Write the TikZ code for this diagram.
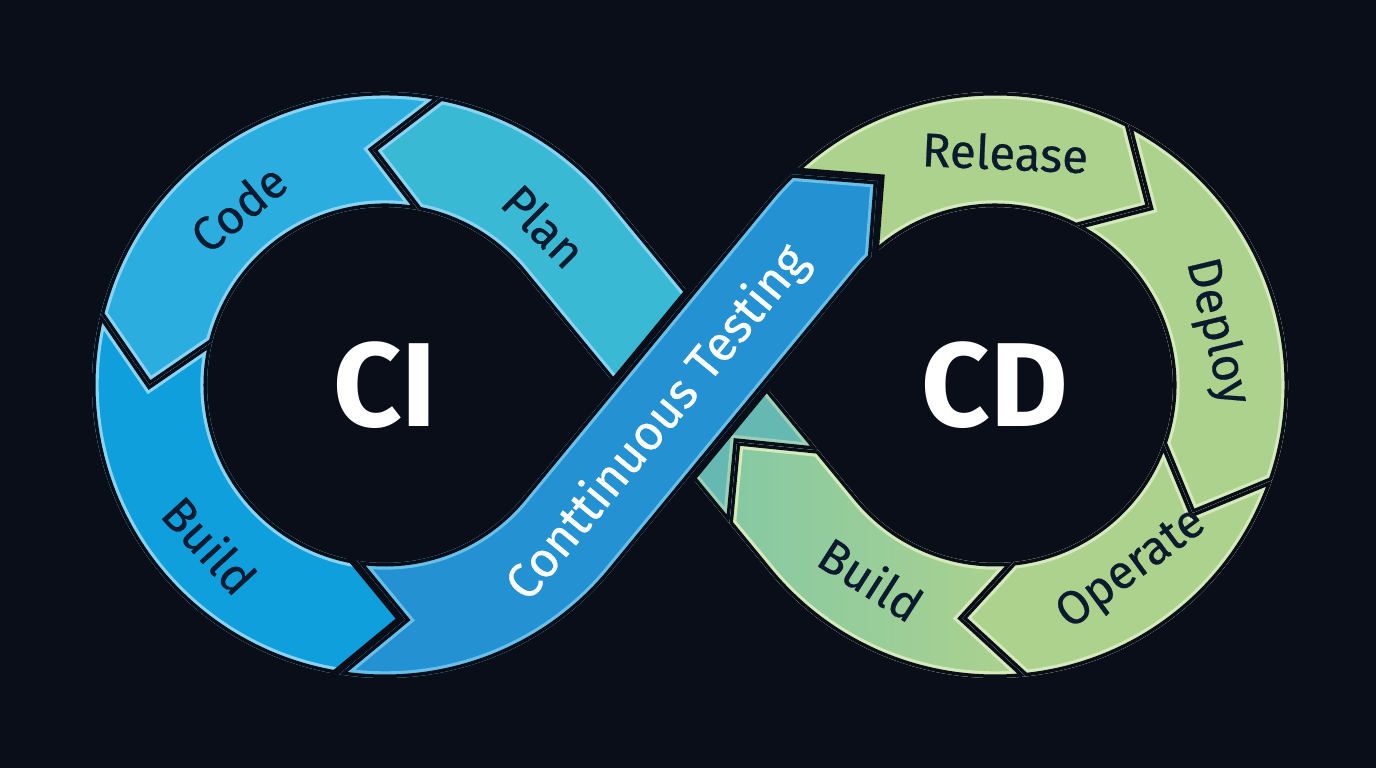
\documentclass[tikz,border=0pt]{standalone}
\usepackage{fontspec}
\setmainfont{Fira Sans}
\newfontfamily\labelfont[FakeBold=0.5]{Fira Sans}
\usetikzlibrary{calc, positioning}

\definecolor{bgnavy}{HTML}{0A0E19}
\definecolor{codeblue}{HTML}{2BAEDF}
\definecolor{planteal}{HTML}{39B9D3}
\definecolor{buildblue}{HTML}{0E9FDC}
\definecolor{bandblue}{HTML}{2391D2}
\definecolor{blueedge}{HTML}{86D4F2}
\definecolor{cdgreen}{HTML}{ADD28D}
\definecolor{cdteal}{HTML}{86C9A4}
\definecolor{tailteal}{HTML}{66B8B2}
\definecolor{greenedge}{HTML}{D4EABB}
\definecolor{labelink}{HTML}{0B1A2E}

\tikzset{
         steplabel/.style={font=\labelfont\fontsize{13.5}{15}\selectfont, text=labelink, inner sep=0pt},
         ringtitle/.style={font=\bfseries\fontsize{34}{38}\selectfont, text=white, inner sep=0pt},
         bandlabel/.style={font=\labelfont\fontsize{14}{16}\selectfont, text=white, inner sep=0pt},
         gapline/.style={draw=bgnavy, line width=2pt},
         rimline/.style={draw=#1, line width=3.8pt}
      }

% one ring segment: fill, light rim and dark gap kept inside it
\newcommand\ringseg[3]{%
  \fill[#2] #1;
  \begin{scope}
    \clip #1;
    \draw[rimline=#3] #1;
    \draw[gapline] #1;
  \end{scope}}

\begin{document}
\begin{tikzpicture}
   \useasboundingbox (0,0) rectangle (13.76,7.68);
   \fill[bgnavy] (0,0) rectangle (13.76,7.68);
   \pgfmathsetmacro\Ro{2.93}
   \pgfmathsetmacro\Ri{1.78}
   \pgfmathsetmacro\Rm{2.355}
   \pgfmathsetmacro\hw{0.575}
   \pgfmathsetmacro\ta{acos(\Rm/3.05)}
   \coordinate (A) at (3.85,3.83);
   \coordinate (B) at (9.95,3.83);
   \coordinate (Mid) at ($(A)!0.5!(B)$);
   \coordinate (Q2) at ($(B)+(180+\ta:\Rm)$);
   \coordinate (bt) at ($(Q2)+(90+\ta:1.2)$);
   \coordinate (bc) at ($(Q2)+(90+\ta:0.62)$);

   % CI ring
   \ringseg{($(A)+(79:\Ro)$) arc[start angle=79, end angle=166, radius=\Ro] -- ($(A)+(180:\Rm)$) -- ($(A)+(166:\Ri)$) arc[start angle=166, end angle=79, radius=\Ri] -- ($(A)+(93:\Rm)$) -- cycle}{codeblue}{blueedge}
   \ringseg{($(A)+(166:\Ro)$) arc[start angle=166, end angle=261, radius=\Ro] -- ($(A)+(275:\Rm)$) -- ($(A)+(261:\Ri)$) arc[start angle=261, end angle=166, radius=\Ri] -- ($(A)+(180:\Rm)$) -- cycle}{buildblue}{blueedge}

   % CD ring
   \ringseg{($(B)+(134:\Ro)$) arc[start angle=134, end angle=63, radius=\Ro] -- ($(B)+(49:\Rm)$) -- ($(B)+(63:\Ri)$) arc[start angle=63, end angle=134, radius=\Ri] -- ($(B)+(120:\Rm)$) -- cycle}{cdgreen}{greenedge}
   \ringseg{($(B)+(63:\Ro)$) arc[start angle=63, end angle=-19, radius=\Ro] -- ($(B)+(-33:\Rm)$) -- ($(B)+(-19:\Ri)$) arc[start angle=-19, end angle=63, radius=\Ri] -- ($(B)+(49:\Rm)$) -- cycle}{cdgreen}{greenedge}
   \ringseg{($(B)+(-19:\Ro)$) arc[start angle=-19, end angle=-84, radius=\Ro] -- ($(B)+(-98:\Rm)$) -- ($(B)+(-84:\Ri)$) arc[start angle=-84, end angle=-19, radius=\Ri] -- ($(B)+(-33:\Rm)$) -- cycle}{cdgreen}{greenedge}
   \ringseg{($(B)+(-84:\Ro)$) arc[start angle=-84, end angle=-180+\ta, radius=\Ro] -- ($(bc)+(180+\ta:\hw)$) -- (bt) -- ($(bc)+(\ta:\hw)$) -- ($(B)+(180+\ta:\Ri)$) arc[start angle=-180+\ta, end angle=-84, radius=\Ri] -- ($(B)+(-98:\Rm)$) -- cycle}{left color=cdteal, right color=cdgreen}{greenedge}

   % lower crossing strip, under the band
   \ringseg{($(bc)+(180+\ta:\hw)$) -- ($(Mid)+(180+\ta:\hw)$) -- ($(Mid)+(\ta:\hw)$) -- ($(bc)+(\ta:\hw)$) -- (bt) -- cycle}{tailteal}{greenedge!50!tailteal}
   \ringseg{($(Mid)+(\ta:\hw)$) -- ($(A)+(\ta:\Ro)$) arc[start angle=\ta, end angle=79, radius=\Ro] -- ($(A)+(93:\Rm)$) -- ($(A)+(79:\Ri)$) arc[start angle=79, end angle=\ta, radius=\Ri] -- ($(Mid)+(180+\ta:\hw)$) -- cycle}{planteal}{blueedge}

   % continuous testing band on top
   \draw[bgnavy, line width=4pt] ($(A)+(261:\Ro)$) arc[start angle=261, end angle=360-\ta, radius=\Ro] -- ($(B)+(180-\ta:\Ri)$) arc[start angle=180-\ta, end angle=134, radius=\Ri] -- ($(B)+(120:\Rm)$) -- ($(B)+(134:\Ro)$) arc[start angle=134, end angle=180-\ta, radius=\Ro] -- ($(A)+(-\ta:\Ri)$) arc[start angle=360-\ta, end angle=261, radius=\Ri] -- ($(A)+(275:\Rm)$) -- cycle;
   \ringseg{($(A)+(261:\Ro)$) arc[start angle=261, end angle=360-\ta, radius=\Ro] -- ($(B)+(180-\ta:\Ri)$) arc[start angle=180-\ta, end angle=134, radius=\Ri] -- ($(B)+(120:\Rm)$) -- ($(B)+(134:\Ro)$) arc[start angle=134, end angle=180-\ta, radius=\Ro] -- ($(A)+(-\ta:\Ri)$) arc[start angle=360-\ta, end angle=261, radius=\Ri] -- ($(A)+(275:\Rm)$) -- cycle}{bandblue}{blueedge!70!bandblue}

   % labels
   \node[ringtitle] (ci) at (A) {CI};
   \node[ringtitle] (cd) at (B) {CD};
   \node[steplabel, rotate=39.6] (code) at ($(A)+(129.6:2.3)$) {Code};
   \node[steplabel, rotate=-45] (plan) at ($(A)+(45:2.25)$) {Plan};
   \node[steplabel, rotate=-47.6] (buildci) at ($(A)+(222.4:2.37)$) {Build};
   \node[steplabel, rotate=-2.5] (release) at ($(B)+(87.5:2.33)$) {Release};
   \node[steplabel, rotate=-76.5] (deploy) at ($(B)+(13.5:2.28)$) {Deploy};
   \node[steplabel, rotate=36.6] (operate) at ($(B)+(-53.4:2.3)$) {Operate};
   \node[steplabel, rotate=-32.6] (buildcd) at ($(B)+(237.4:2.3)$) {Build};
   \node[bandlabel, rotate=90-\ta] (testing) at ($(Mid)+(270-\ta:0.5)$) {Conttinuous Testing};
\end{tikzpicture}
\end{document}
